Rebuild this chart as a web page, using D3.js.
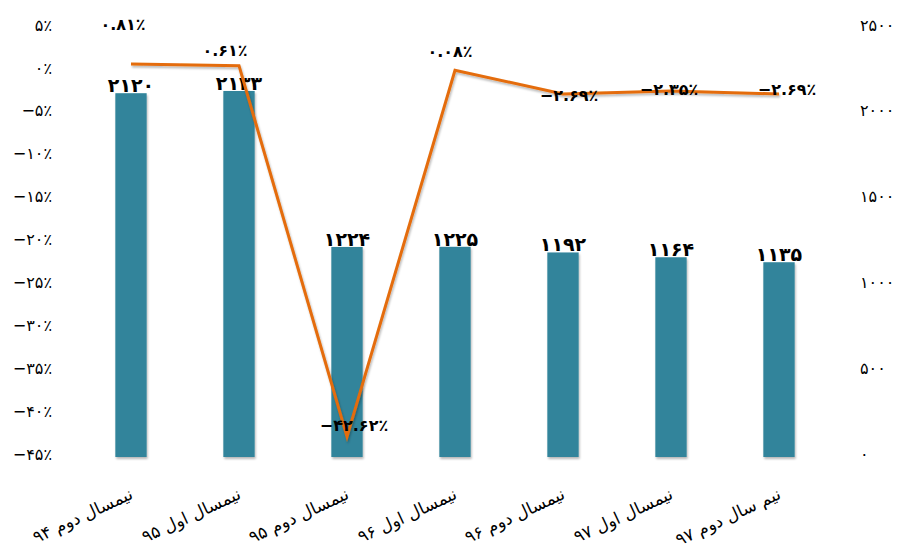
<!DOCTYPE html>
<html>
<head>
<meta charset="utf-8">
<script src="https://cdn.jsdelivr.net/npm/d3@7"></script>
<style>
	body { margin: 0; background: #fff; }
	svg { display: block; font-family: "DejaVu Sans", sans-serif; }
	.axis text { fill: #000; }
	.bar-label { font-size: 19px; font-weight: bold; text-anchor: middle; }
	.line-label { font-size: 16px; font-weight: bold; text-anchor: middle; }
	.cat-label { font-size: 17px; text-anchor: end; }
</style>
</head>
<body>
<svg width="897" height="552"></svg>
<script>
const categories = ['نیمسال دوم ۹۴', 'نیمسال اول ۹۵', 'نیمسال دوم ۹۵', 'نیمسال اول ۹۶', 'نیمسال دوم ۹۶', 'نیمسال اول ۹۷', 'نیم سال دوم ۹۷'];
const students = [2120, 2133, 1224, 1225, 1192, 1164, 1135];
const growth = [0.81, 0.61, -42.62, 0.08, -2.69, -2.35, -2.69];
const leftTicks = [5, 0, -5, -10, -15, -20, -25, -30, -35, -40, -45];
const rightTicks = [0, 500, 1000, 1500, 2000, 2500];

// hand-placed label nudges (centre of label vs. point), as in the original sheet
const labelNudge = [[-8, -39], [-14, -14], [7, -10], [-5, -18], [6, 2], [-2, -1], [8, -4]];

const svg = d3.select('svg');

const x = d3.scaleBand()
	.domain(categories)
	.range([77, 833]);

const yRight = d3.scaleLinear()
	.domain([0, 2500])
	.range([457, 28]);

const yLeft = d3.scaleLinear()
	.domain([-45, 5])
	.range([457, 28]);

const fa = (s) => String(s).replace(/[0-9]/g, (c) => '۰۱۲۳۴۵۶۷۸۹'[c]).replace('-', '−');

const defs = svg.append('defs');
const shadow = defs.append('filter')
	.attr('id', 'shadow')
	.attr('x', '-10%').attr('y', '-10%')
	.attr('width', '120%').attr('height', '120%');
shadow.append('feDropShadow')
	.attr('dx', 1).attr('dy', 2)
	.attr('stdDeviation', 1.2)
	.attr('flood-color', '#000')
	.attr('flood-opacity', 0.28);

// gridlines
svg.append('g')
	.selectAll('line')
	.data(rightTicks)
	.enter()
	.append('line')
	.attr('x1', 77)
	.attr('x2', 833)
	.attr('y1', (d) => yRight(d))
	.attr('y2', (d) => yRight(d))
	.attr('stroke', '#b9c2d0')
	.attr('stroke-width', 1.5)
	.attr('filter', 'url(#shadow)');

// left axis
svg.append('g')
	.attr('class', 'axis')
	.attr('transform', 'translate(55,-3)')
	.call(d3.axisLeft(yLeft).tickValues(leftTicks).tickSize(0).tickPadding(3).tickFormat((d) => fa(d) + '٪'))
	.call((g) => g.select('.domain').remove())
	.selectAll('text')
	.attr('font-family', '"DejaVu Sans", sans-serif')
	.attr('font-size', 16);

// right axis
svg.append('g')
	.attr('class', 'axis')
	.attr('transform', 'translate(857,-3)')
	.call(d3.axisRight(yRight).tickValues(rightTicks).tickSize(0).tickPadding(3).tickFormat(fa))
	.call((g) => g.select('.domain').remove())
	.selectAll('text')
	.attr('font-family', '"DejaVu Sans", sans-serif')
	.attr('font-size', 16);

// bars
const barW = x.bandwidth() * 0.29;
const cx = (d) => x(d) + x.bandwidth() / 2;

svg.append('g')
	.selectAll('rect')
	.data(students)
	.enter()
	.append('rect')
	.attr('x', (d, i) => cx(categories[i]) - barW / 2)
	.attr('y', (d) => yRight(d))
	.attr('width', barW)
	.attr('height', (d) => yRight(0) - yRight(d))
	.attr('fill', '#31849b')
	.attr('filter', 'url(#shadow)');

svg.append('g')
	.selectAll('text')
	.data(students)
	.enter()
	.append('text')
	.attr('class', 'bar-label')
	.attr('x', (d, i) => cx(categories[i]))
	.attr('y', (d) => yRight(d) - 1)
	.text(fa);

// line
const line = d3.line()
	.x((d, i) => cx(categories[i]))
	.y((d) => yLeft(d));

svg.append('path')
	.datum(growth)
	.attr('d', line)
	.attr('fill', 'none')
	.attr('stroke', '#e46c0a')
	.attr('stroke-width', 3)
	.attr('stroke-linejoin', 'miter')
	.attr('filter', 'url(#shadow)');

svg.append('g')
	.selectAll('text')
	.data(growth)
	.enter()
	.append('text')
	.attr('class', 'line-label')
	.attr('x', (d, i) => cx(categories[i]) + labelNudge[i][0])
	.attr('y', (d, i) => yLeft(d) + labelNudge[i][1])
	.attr('dy', '0.3em')
	.text((d) => fa(d.toFixed(2)) + '٪');

// category labels
svg.append('g')
	.selectAll('text')
	.data(categories)
	.enter()
	.append('text')
	.attr('class', 'cat-label')
	.attr('transform', (d) => `translate(${cx(d) + 3}, 498) rotate(-25)`)
	.text((d) => d);
</script>
</body>
</html>
